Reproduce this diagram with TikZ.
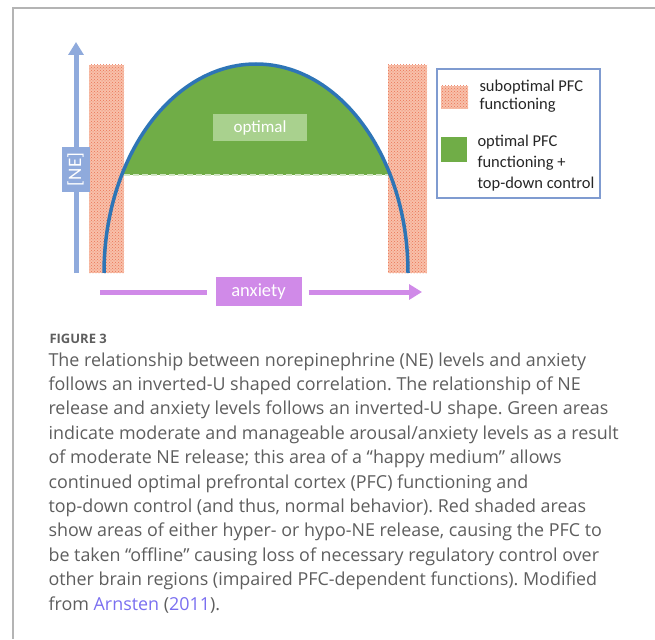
\documentclass[tikz,border=0pt]{standalone}
\usepackage{fontspec}
\setmainfont{Open Sans}
\newfontfamily\figfont{Carlito}
\usetikzlibrary{positioning,arrows.meta,patterns}
\definecolor{nefill}{HTML}{8FAADC}
\definecolor{curveblue}{HTML}{2E75B6}
\definecolor{optgreen}{HTML}{70AD47}
\definecolor{optlight}{HTML}{A9D18E}
\definecolor{dashgreen}{HTML}{D2E6C5}
\definecolor{anxviolet}{HTML}{D08AE8}
\definecolor{hatchbg}{HTML}{F8C0AA}
\definecolor{hatchdot}{HTML}{EA7454}
\definecolor{legframe}{HTML}{7F9BD0}
\definecolor{captgray}{HTML}{5E5E5E}
\definecolor{linkblue}{HTML}{7A6FF0}
\definecolor{framegray}{HTML}{B4B4B4}

\begin{document}
\frenchspacing
\begin{tikzpicture}[
        x=1pt, y=-1pt,
        hatchbar/.style={preaction={fill=hatchbg}, pattern=crosshatch dots,
          pattern color=hatchdot, inner sep=0pt},
        lblbox/.style={inner sep=0pt, text=white, font=\figfont\fontsize{17}{20}\selectfont},
        axisarr/.style={line width=5pt, -{Triangle[length=13pt, width=15pt]}},
        legtxt/.style={anchor=base west, align=left, text=black!85,
          font=\figfont\fontsize{16.5}{20.5}\selectfont},
        captxt/.style={anchor=base west, align=left, text=captgray,
          font=\fontsize{17.9}{24.4}\selectfont},
      ]
        \useasboundingbox (0,0) rectangle (655,639);

        % Frame
        \draw[framegray, line width=1.2pt] (13,639) -- (13,8) -- (655,8);

        % Shaded bars
        \node[hatchbar, minimum width=35, minimum height=208] (lbar) at (106.5,169) {};
        \node[hatchbar, minimum width=39, minimum height=208] (rbar) at (407.5,169) {};

        % Optimal area under the curve
        \begin{scope}
          \clip (104,273) arc[start angle=180, end angle=360, x radius=152, y radius=209] -- cycle;
          \fill[optgreen] (100,60) rectangle (412,175);
        \end{scope}
        \coordinate (dleft) at (124,175);
        \coordinate (dright) at (388,175);
        \draw[dashgreen, line width=2.5pt, dash pattern=on 6pt off 3pt] (dleft) -- (dright);

        % Inverted U
        \draw[curveblue, line width=3.5pt] (104,273) arc[start angle=180, end angle=360, x radius=152, y radius=209];

        \node[lblbox, fill=optlight, minimum width=94, minimum height=27] (opt) at (260,127.5) {optimal};

        % [NE] axis
        \coordinate (nebot) at (76,273);
        \coordinate (netop) at (76,42);
        \draw[axisarr, nefill] (nebot) -- (netop);
        \node[lblbox, fill=nefill, rotate=90, minimum width=45, minimum height=28,
          font=\figfont\fontsize{19}{22}\selectfont] (nelbl) at (75.5,169.5) {[NE]};

        % anxiety axis
        \coordinate (anxl) at (100,292);
        \coordinate (anxr) at (422,292);
        \node[lblbox, fill=anxviolet, minimum width=86, minimum height=29,
          font=\figfont\fontsize{18.5}{22}\selectfont] (anxlbl) at (258.5,291.5) {anxiety};
        \draw[anxviolet, line width=5pt] (anxl) -- ([xshift=-8pt]anxlbl.west |- anxl);
        \draw[axisarr, anxviolet] ([xshift=7pt]anxlbl.east |- anxl) -- (anxr);

        % Legend
        \node[draw=legframe, line width=1.2pt, minimum width=163, minimum height=129] (legend) at (518.5,133.5) {};
        \node[hatchbar, minimum width=27, minimum height=23] (legsub) at (454.5,97.5) {};
        \node[fill=optgreen, inner sep=0pt, minimum width=26, minimum height=25] (legopt) at (454,149.5) {};
        \node[legtxt] (legsubtxt) at (476,110) {suboptimal PFC\\[-2pt]functioning};
        \node[legtxt] (legopttxt) at (474,188) {optimal PFC\\functioning +\\top-down control};

        % Caption
        \node[anchor=base west, text=captgray, font=\fontsize{13}{15}\selectfont\bfseries] (fig) at (46,343) {FIGURE 3};
        \node[captxt] (cap) at (45,610) {The relationship between norepinephrine (NE) levels and anxiety\\
follows an inverted-U shaped correlation. The relationship of NE\\
release and anxiety levels follows an inverted-U shape. Green areas\\
indicate moderate and manageable arousal/anxiety levels as a result\\
of moderate NE release; this area of a “happy medium” allows\\
continued optimal prefrontal cortex (PFC) functioning and\\
top-down control (and thus, normal behavior). Red shaded areas\\
show areas of either hyper- or hypo-NE release, causing the PFC to\\
be taken “offline” causing loss of necessary regulatory control over\\
other brain regions (impaired PFC-dependent functions). Modified\\
from \textcolor{linkblue}{Arnsten} (\textcolor{linkblue}{2011}).};
      \end{tikzpicture}
\end{document}
